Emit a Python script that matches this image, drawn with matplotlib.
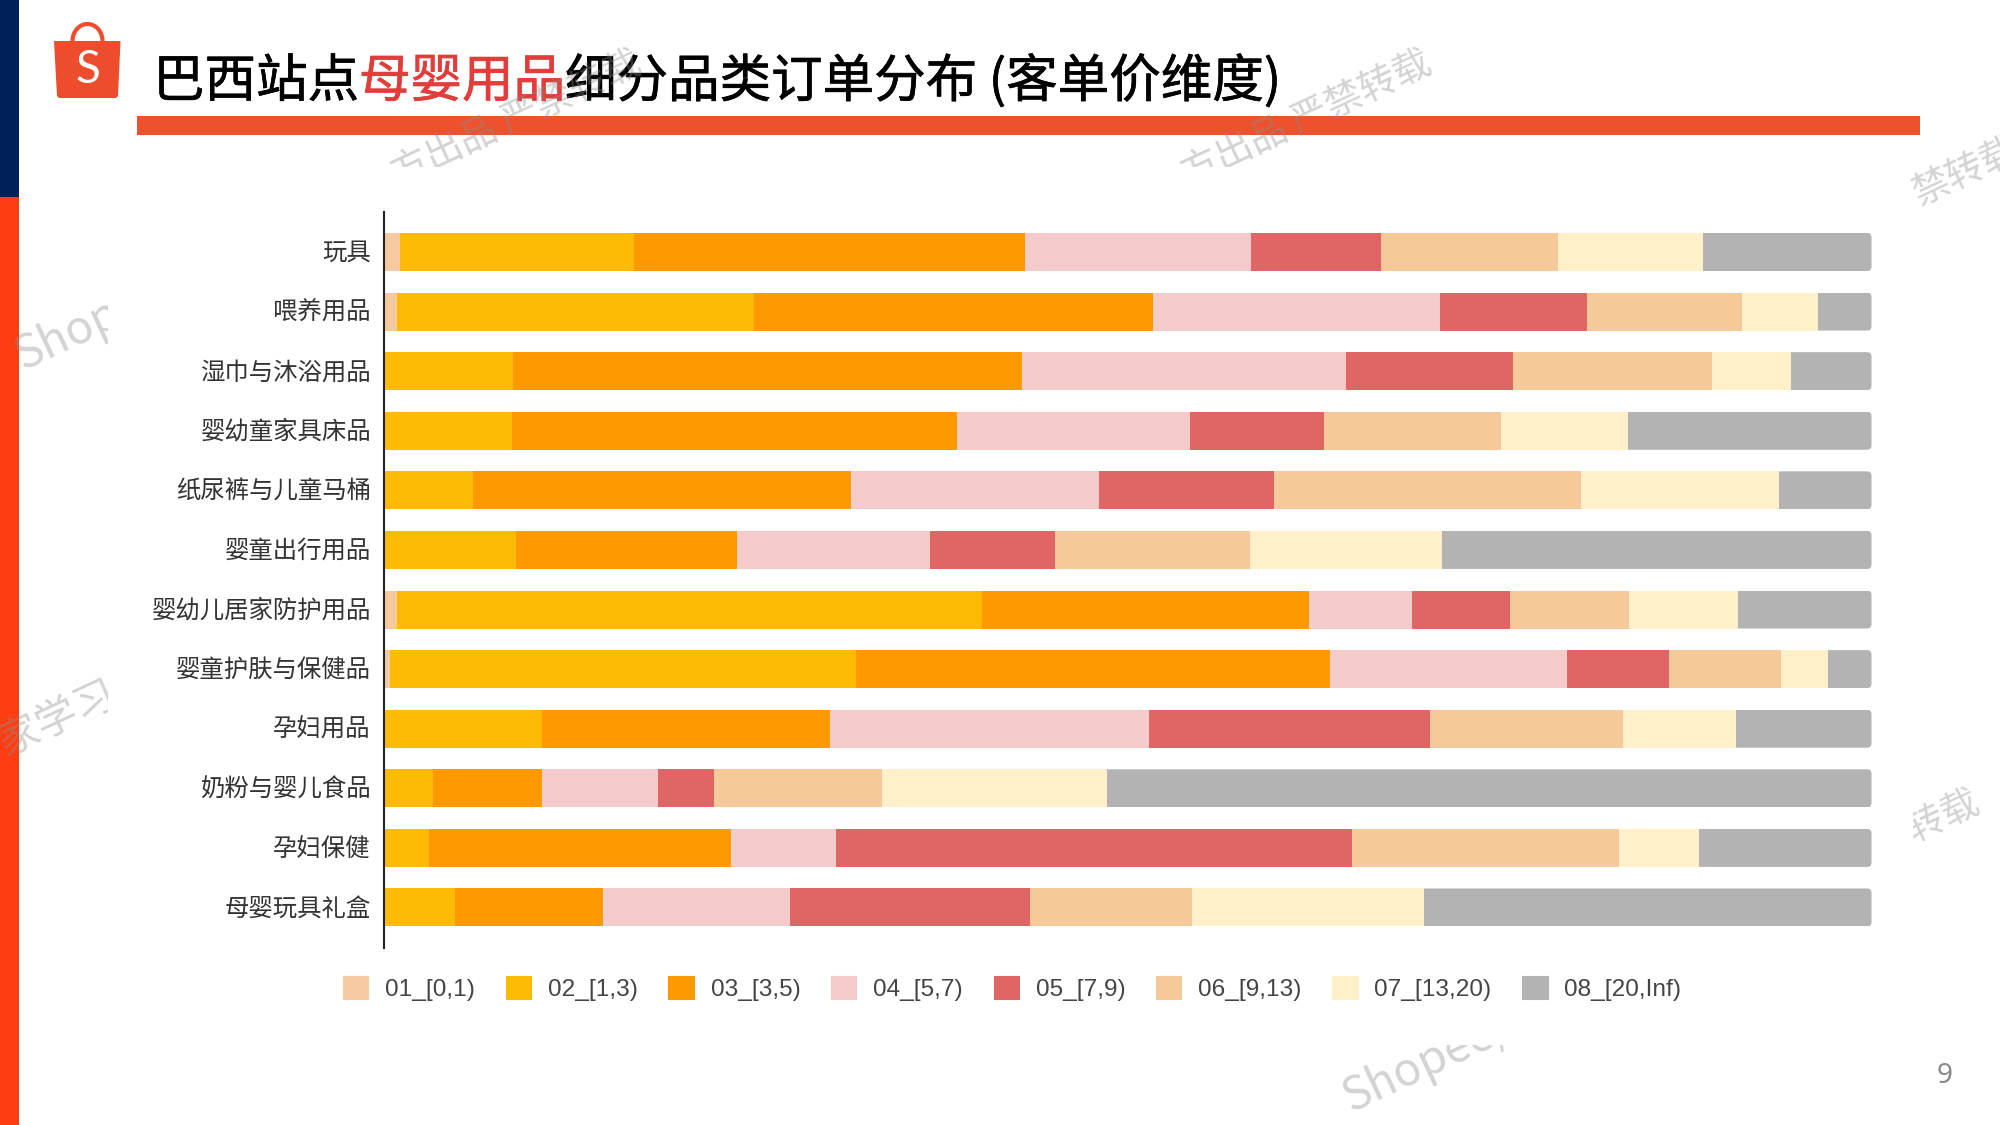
import matplotlib
matplotlib.use("Agg")
import matplotlib.pyplot as plt
import matplotlib.patheffects as pe
import numpy as np
from matplotlib.patches import Rectangle, Polygon, Arc, FancyBboxPatch, Patch
from matplotlib.transforms import Bbox, ScaledTranslation

CJK = ['Noto Sans CJK SC', 'DejaVu Sans']
LATIN = ['Liberation Sans', 'DejaVu Sans']

categories = ['玩具', '喂养用品', '湿巾与沐浴用品', '婴幼童家具床品', '纸尿裤与儿童马桶', '婴童出行用品',
              '婴幼儿居家防护用品', '婴童护肤与保健品', '孕妇用品', '奶粉与婴儿食品', '孕妇保健', '母婴玩具礼盒']
bucket_names = ['01_[0,1)', '02_[1,3)', '03_[3,5)', '04_[5,7)', '05_[7,9)', '06_[9,13)', '07_[13,20)', '08_[20,Inf)']
bucket_colors = ['#F6C9A0', '#FDBB05', '#FE9900', '#F3CBCB', '#E06666', '#F6C99B', '#FFF0C9', '#B3B3B3']

# share of orders (%) per price band, one value per category
band_01 = [1.1, 0.9, 0.0, 0.0, 0.0, 0.0, 0.9, 0.4, 0.0, 0.0, 0.0, 0.0]
band_02 = [15.7, 24.0, 8.7, 8.6, 6.0, 8.9, 39.3, 31.3, 10.6, 3.3, 3.0, 4.8]
band_03 = [26.3, 26.8, 34.2, 29.9, 25.4, 14.8, 22.0, 31.9, 19.4, 7.3, 20.3, 9.9]
band_04 = [15.2, 19.3, 21.8, 15.7, 16.7, 13.0, 6.9, 15.9, 21.4, 7.8, 7.1, 12.6]
band_05 = [8.7, 9.9, 11.2, 9.0, 11.7, 8.4, 6.6, 6.9, 18.9, 3.8, 34.7, 16.1]
band_06 = [11.9, 10.4, 13.4, 11.9, 20.7, 13.1, 8.0, 7.5, 13.0, 11.3, 17.9, 10.9]
band_07 = [9.8, 5.1, 5.3, 8.5, 13.3, 12.9, 7.3, 3.2, 7.6, 15.1, 5.4, 15.6]
band_08 = [11.3, 3.6, 5.4, 16.4, 6.2, 28.9, 9.0, 2.9, 9.1, 51.4, 11.6, 30.1]
bands = [band_01, band_02, band_03, band_04, band_05, band_06, band_07, band_08]

W, H = 2000, 1125
fig = plt.figure(figsize=(W / 100, H / 100), dpi=100, facecolor='white')

# page furniture lives in an axes measured in page pixels
page = fig.add_axes([0, 0, 1, 1], zorder=0)
page.set_xlim(0, W)
page.set_ylim(H, 0)
page.axis('off')

page.add_patch(Rectangle((0, 0), 19, 197, color='#00205B', lw=0))
page.add_patch(Rectangle((0, 197), 19, H - 197, color='#FF3D12', lw=0))
page.add_patch(Rectangle((136.5, 116), 1783.5, 19, color='#EE512D', lw=0))

# shop bag logo
BAG = '#EE4D2D'
page.add_patch(Arc((87.5, 41), 30, 34, theta1=180, theta2=360, color=BAG, lw=3.0))
page.add_patch(Polygon([(54, 41), (120.5, 41), (118, 96), (116, 98), (59, 98), (57, 96)], closed=True, color=BAG, lw=0))
page.text(87.5, 70, 'S', color='white', fontsize=33, ha='center', va='center', family=['Lato', 'DejaVu Sans'])

# title, coloured in runs
fig.canvas.draw()
renderer = fig.canvas.get_renderer()
cursor = 153
for run, col in [('巴西站点', '#000000'), ('母婴用品', '#E23D3A'), ('细分品类订单分布 (客单价维度)', '#000000')]:
    t = page.text(cursor, 82, run, color=col, fontsize=37.1, family=CJK, ha='left', va='center')
    box = t.get_window_extent(renderer)
    t.set_path_effects([pe.withStroke(linewidth=0.5, foreground=col)])
    cursor += box.width

page.text(1945, 1076, '9', color='#8A8A8A', fontsize=20, ha='center', va='center', family=['Noto Sans'], weight='light')

# stacked bars
ax = fig.add_axes([384 / W, 1 - 948 / H, (1871.5 - 384) / W, (948 - 212) / H], zorder=1)
ax.patch.set_alpha(0)
y = np.arange(len(categories))
ax.set_xlim(0, 100)
ax.set_ylim(11.68, -0.671)
BAR_H = 0.638
left = np.zeros(len(categories))
for vals, color, name in zip(bands, bucket_colors, bucket_names):
    rects = ax.barh(y, vals, left=left, height=BAR_H, color=color, lw=0, label=name)
    left += np.array(vals)
    if name.startswith('08'):
        # the last band carries small rounded corners on its outer end
        for r, yi in zip(rects, y):
            clip = FancyBboxPatch((-5, yi - BAR_H / 2), 105, BAR_H,
                                  boxstyle='round,pad=0,rounding_size=0.3',
                                  mutation_aspect=0.25, transform=ax.transData)
            r.set_clip_path(clip)

for s in ['top', 'right', 'bottom']:
    ax.spines[s].set_visible(False)
ax.spines['left'].set_linewidth(1.5)
ax.spines['left'].set_color('#222222')
ax.set_xticks([])
ax.set_yticks(y)
ax.set_yticklabels(categories, family=CJK, fontsize=17.6, color='#333333')
ax.tick_params(axis='y', length=0, pad=9.5)
nudge = ScaledTranslation(0, 2 / 100, fig.dpi_scale_trans)
for lab in ax.get_yticklabels():
    lab.set_transform(lab.get_transform() + nudge)

handles = [Patch(facecolor=c, edgecolor=c, lw=1.5, joinstyle='round', label=n)
           for c, n in zip(bucket_colors, bucket_names)]
leg = ax.legend(handles=handles, ncol=8, frameon=False, loc='center left',
                bbox_to_anchor=(344 / W, 1 - 989 / H), bbox_transform=fig.transFigure,
                prop={'family': LATIN, 'size': 17.6}, labelcolor='#444444',
                handlelength=1.0, handleheight=1.0, handletextpad=0.68, columnspacing=1.3,
                borderpad=0, borderaxespad=0)

# faint repeated marking across the page, visible only in the margins
overlay = fig.add_axes([0, 0, 1, 1], zorder=2)
overlay.set_xlim(0, W)
overlay.set_ylim(H, 0)
overlay.axis('off')
overlay.patch.set_alpha(0)

def to_display(x0, y0, x1, y1):
    p0 = overlay.transData.transform((x0, y1))
    p1 = overlay.transData.transform((x1, y0))
    return Bbox([p0, p1])

MARKS = [
    ('方出品 严禁转载', 640, 62, 'right', 27, (370, 0, 700, 167)),
    ('方出品 严禁转载', 1430, 62, 'right', 27, (1160, 0, 1480, 167)),
    ('禁转载', 1915, 196, 'left', 27, (1900, 120, 2000, 230)),
    ('Shop', 18, 358, 'left', 33, (0, 290, 108, 380)),
    ('专家学习', 114, 692, 'right', 30, (0, 650, 108, 770)),
    ('严禁转载', 1978, 800, 'right', 27, (1913, 770, 2000, 850)),
    ('Shopee/', 1346, 1100, 'left', 33, (1330, 1045, 1520, 1125)),
]
for text, mx, my, ha, size, region in MARKS:
    t = overlay.text(mx, my, text, color='#8C8C8C', alpha=0.38, fontsize=size, rotation=25,
                     rotation_mode='anchor', ha=ha, va='center', family=CJK, style='italic')
    t.set_clip_box(to_display(*region))
    t.set_clip_on(True)

fig.savefig('out.png', dpi=100, facecolor='white')
